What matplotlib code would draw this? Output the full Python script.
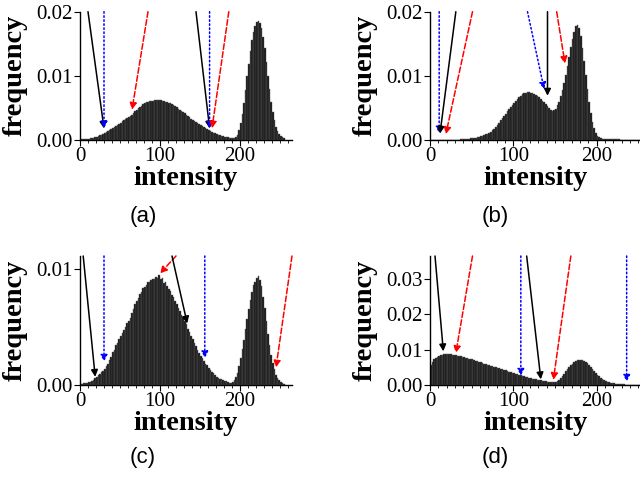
#!/usr/bin/python3
"""
Intensity histograms with threshold arrows, four panels.
"""
import matplotlib
matplotlib.use('Agg')
import matplotlib.pyplot as plt
import numpy as np
from matplotlib.ticker import FormatStrFormatter, MultipleLocator

BIN_WIDTH = 2

# frequencies (units of 1e-3), one value per 2 levels
freq_a = [0.1, 0.12, 0.14, 0.16, 0.18, 0.21, 0.26, 0.31, 0.37, 0.45, 0.52,
          0.62, 0.72, 0.85, 1.0, 1.12, 1.25, 1.4, 1.55, 1.7, 1.85, 2.0,
          2.15, 2.3, 2.5, 2.7, 2.9, 3.05, 3.25, 3.45, 3.6, 3.75, 3.95, 4.2,
          4.45, 4.7, 4.95, 5.15, 5.35, 5.55, 5.7, 5.85, 5.95, 6.05, 6.1,
          6.15, 6.2, 6.25, 6.25, 6.2, 6.2, 6.15, 6.1, 6.0, 5.9, 5.8, 5.7,
          5.55, 5.4, 5.25, 5.1, 4.9, 4.75, 4.55, 4.35, 4.15, 3.95, 3.75,
          3.55, 3.35, 3.15, 2.95, 2.75, 2.6, 2.45, 2.3, 2.15, 2.0, 1.85,
          1.7, 1.55, 1.4, 1.25, 1.15, 1.05, 0.95, 0.85, 0.75, 0.67, 0.6,
          0.52, 0.46, 0.4, 0.35, 0.31, 0.28, 0.3, 0.45, 0.8, 1.5, 2.6, 4.0,
          5.7, 7.8, 9.9, 11.9, 13.9, 15.6, 16.9, 17.8, 18.4, 18.6, 18.3,
          17.5, 16.1, 14.3, 12.2, 10.0, 7.9, 6.0, 4.4, 3.1, 2.1, 1.4, 0.95,
          0.65, 0.42, 0.28]
freq_b = [0, 0, 0, 0, 0, 0, 0, 0, 0.01, 0.02, 0.02, 0.03, 0.03, 0.04, 0.05,
          0.05, 0.06, 0.07, 0.09, 0.1, 0.12, 0.14, 0.17, 0.2, 0.24, 0.28,
          0.33, 0.38, 0.43, 0.5, 0.57, 0.65, 0.75, 0.87, 1.0, 1.15, 1.3,
          1.5, 1.75, 2.05, 2.35, 2.7, 3.05, 3.4, 3.75, 4.1, 4.45, 4.8, 5.15,
          5.5, 5.8, 6.1, 6.4, 6.65, 6.9, 7.1, 7.25, 7.4, 7.45, 7.45, 7.4,
          7.3, 7.2, 7.05, 6.85, 6.65, 6.4, 6.15, 5.85, 5.55, 5.3, 5.0, 4.75,
          4.55, 4.6, 4.9, 5.4, 6.0, 6.8, 7.8, 8.9, 10.2, 11.5, 13.0, 14.5,
          15.8, 16.9, 17.7, 18.0, 17.4, 16.2, 14.4, 12.3, 10.2, 8.0, 6.0,
          4.2, 2.8, 1.8, 1.1, 0.7, 0.45, 0.3, 0.22, 0.17, 0.14, 0.12, 0.11,
          0.1, 0.1, 0.09, 0.09, 0.08, 0.08, 0.07, 0.07, 0.07, 0.06, 0.06,
          0.06, 0.05, 0.05, 0.05, 0.04, 0.04, 0.04, 0.03, 0.03]
freq_c = [0.1, 0.12, 0.13, 0.15, 0.18, 0.22, 0.28, 0.36, 0.47, 0.6, 0.72,
          0.85, 0.95, 1.1, 1.2, 1.35, 1.6, 1.85, 2.15, 2.45, 2.8, 3.05, 3.4,
          3.6, 3.95, 4.2, 4.45, 4.7, 4.95, 5.3, 5.5, 5.8, 6.2, 6.5, 6.95,
          7.2, 7.5, 7.8, 8.0, 8.35, 8.45, 8.6, 8.85, 8.9, 9.0, 9.15, 9.1,
          9.3, 9.2, 9.45, 9.1, 9.2, 8.8, 8.85, 8.5, 8.3, 8.1, 7.75, 7.55,
          7.2, 6.95, 6.6, 6.4, 6.05, 5.85, 5.5, 5.25, 4.85, 4.6, 4.25, 3.95,
          3.6, 3.35, 3.0, 2.75, 2.5, 2.3, 2.1, 1.85, 1.7, 1.5, 1.3, 1.15,
          1.0, 0.85, 0.72, 0.62, 0.55, 0.48, 0.42, 0.37, 0.32, 0.26, 0.2,
          0.17, 0.22, 0.4, 0.65, 1.0, 1.6, 2.3, 3.1, 3.9, 4.8, 5.7, 6.5, 7.3,
          8.0, 8.6, 8.9, 9.2, 9.35, 9.0, 8.5, 7.6, 6.6, 5.5, 4.4, 3.4, 2.6,
          1.9, 1.35, 0.9, 0.6, 0.4, 0.25, 0.16, 0.1]
freq_d = [5.6, 6.6, 7.3, 7.7, 8.0, 8.2, 8.4, 8.55, 8.7, 8.8, 8.85, 8.8, 8.7,
          8.6, 8.45, 8.35, 8.25, 8.15, 8.05, 7.95, 7.85, 7.7, 7.6, 7.45,
          7.35, 7.2, 7.0, 6.85, 6.65, 6.5, 6.35, 6.2, 6.05, 5.9, 5.75, 5.6,
          5.45, 5.3, 5.15, 5.0, 4.85, 4.7, 4.55, 4.4, 4.25, 4.1, 3.95, 3.8,
          3.65, 3.5, 3.35, 3.2, 3.05, 2.9, 2.75, 2.6, 2.45, 2.3, 2.15, 2.0,
          1.9, 1.8, 1.7, 1.6, 1.5, 1.4, 1.3, 1.2, 1.1, 1.0, 0.95, 0.9, 0.88,
          0.87, 0.88, 0.95, 1.15, 1.5, 2.0, 2.6, 3.2, 3.9, 4.5, 5.1, 5.6,
          6.05, 6.45, 6.75, 6.95, 7.1, 7.1, 7.0, 6.8, 6.5, 6.1, 5.6, 5.1,
          4.5, 3.95, 3.4, 2.9, 2.45, 2.05, 1.7, 1.4, 1.15, 0.95, 0.8, 0.65,
          0.55, 0.45, 0.38, 0.32, 0.27, 0.22, 0.18, 0.15, 0.12, 0.1, 0.09,
          0.07, 0.06, 0.05, 0.04, 0.03, 0.03, 0.02, 0.02]

# arrows: (x at top of axes, x at tip, y at tip, kind)
arrows_a = [(10, 30, 0.0018, 'k'), (30, 30, 0.0018, 'b'),
            (85, 65, 0.0047, 'r'), (145, 162, 0.0018, 'k'),
            (162, 162, 0.0018, 'b'), (186, 165, 0.0018, 'r')]
arrows_b = [(11, 11, 0.0010, 'b'), (31, 12, 0.0010, 'k'),
            (51, 19, 0.0009, 'r'), (117, 137, 0.0079, 'b'),
            (141, 141, 0.0069, 'k'), (152, 162, 0.0119, 'r')]
arrows_c = [(4, 19, 0.0007, 'k'), (30, 30, 0.0020, 'b'),
            (120, 100, 0.0096, 'r'), (115, 134, 0.0053, 'k'),
            (156, 156, 0.0023, 'b'), (265, 245, 0.0015, 'r')]
arrows_d = [(6, 16, 0.0095, 'k'), (51, 31, 0.0090, 'r'),
            (109, 109, 0.0026, 'b'), (116, 133, 0.0016, 'k'),
            (169, 148, 0.0014, 'r'), (236, 236, 0.0009, 'b')]

ARROW_STYLE = {'k': ('black', '-'), 'b': ('blue', ':'), 'r': ('red', '--')}


def format_plotting():
    plt.rcParams['font.family'] = 'Liberation Serif'
    plt.rcParams['font.size'] = 15
    plt.rcParams['axes.labelsize'] = 20.5
    plt.rcParams['axes.labelweight'] = 'bold'
    plt.rcParams['xtick.labelsize'] = 15
    plt.rcParams['ytick.labelsize'] = 15
    plt.rcParams['xtick.major.size'] = 4
    plt.rcParams['ytick.major.size'] = 4
    plt.rcParams['xtick.minor.size'] = 2
    plt.rcParams['xtick.major.pad'] = 1
    plt.rcParams['ytick.major.pad'] = 1
    plt.rcParams['axes.linewidth'] = 1
    return


def draw_panel(ax, freq, arrows, xmax, ymax, yticks):
    centres = BIN_WIDTH / 2 + BIN_WIDTH * np.arange(len(freq))
    ax.bar(centres, np.array(freq) * 1e-3, width=BIN_WIDTH,
           color='#141414', edgecolor='#5a5a5a', linewidth=0.3)
    ax.set_xlim(0, xmax)
    ax.set_ylim(0, ymax)
    ax.set_xticks([0, 100, 200])
    ax.xaxis.set_minor_locator(MultipleLocator(10))
    ax.set_yticks(yticks)
    ax.yaxis.set_major_formatter(FormatStrFormatter('%.2f'))
    ax.tick_params(labelfontfamily='Liberation Serif')
    ax.spines['right'].set_color('none')
    ax.spines['top'].set_color('none')
    ax.xaxis.set_ticks_position('bottom')
    ax.yaxis.set_ticks_position('left')
    for x0, x1, y1, kind in arrows:
        col, ls = ARROW_STYLE[kind]
        ax.annotate('', xy=(x1, y1), xytext=(x0, ymax),
                    annotation_clip=False,
                    arrowprops=dict(arrowstyle='-|>', color=col, lw=1.1,
                                    ls=ls, mutation_scale=10,
                                    shrinkA=0, shrinkB=0))
    ax.set_xlabel('intensity', labelpad=0)
    ax.set_ylabel('frequency')
    return


def plot_histograms():
    format_plotting()
    fig = plt.figure(figsize=(6.4, 4.79), dpi=100)
    W, H = 640.0, 479.0
    # axes rectangles in pixels: left, bottom, width, height
    rects = [(80, 479 - 140, 212, 128.3), (430, 479 - 140, 210, 128.3),
             (80, 479 - 385, 212, 129), (430, 479 - 385, 210, 129)]
    specs = [(freq_a, arrows_a, 265, 0.02, [0, 0.01, 0.02]),
             (freq_b, arrows_b, 252, 0.02, [0, 0.01, 0.02]),
             (freq_c, arrows_c, 265, 0.0111, [0, 0.01]),
             (freq_d, arrows_d, 252, 0.0364, [0, 0.01, 0.02, 0.03])]
    for (l, b, w, h), spec in zip(rects, specs):
        ax = fig.add_axes([l / W, b / H, w / W, h / H])
        draw_panel(ax, *spec)
        ax.yaxis.set_label_coords(-52.0 / w, 0.5)
    letters = [('(a)', 143, 217), ('(b)', 495, 217),
               ('(c)', 143, 457), ('(d)', 495, 457)]
    for txt, x, y in letters:
        fig.text(x / W, 1 - y / H, txt, family='Liberation Sans',
                 fontsize=16, ha='center', va='center')
    plt.savefig('out.png', dpi=100)
    return


if __name__ == "__main__":
    plot_histograms()
